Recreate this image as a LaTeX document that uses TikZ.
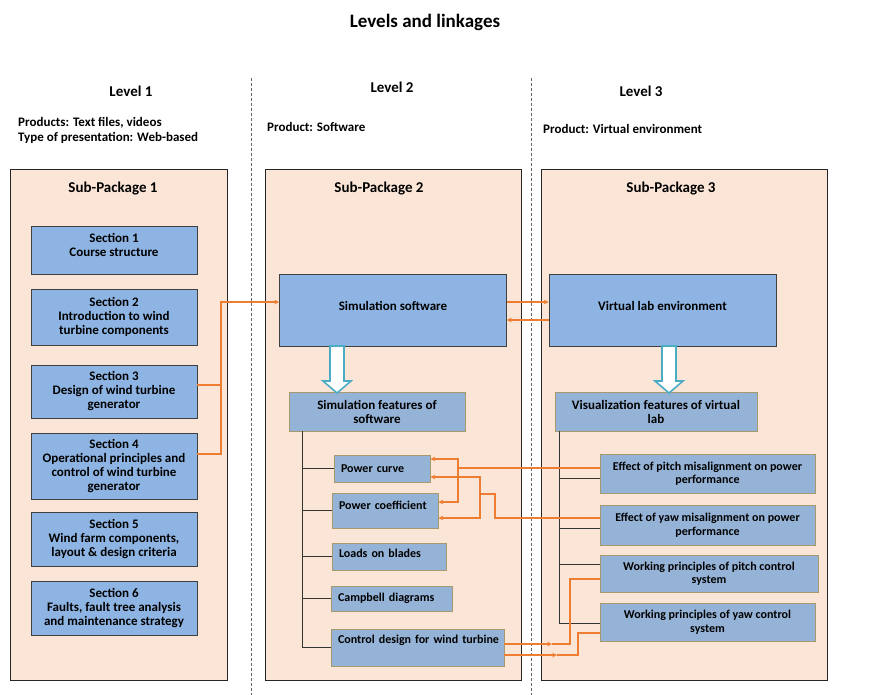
\documentclass[tikz,border=0pt]{standalone}
\usepackage{fontspec}
\setmainfont{Carlito}
\usepackage{tikz}

\definecolor{peach}{RGB}{251,229,214}
\definecolor{secblue}{RGB}{142,180,227}
\definecolor{featblue}{RGB}{149,179,215}
\definecolor{featedge}{RGB}{166,153,110}
\definecolor{linkorange}{RGB}{237,125,49}
\definecolor{arrowcyan}{RGB}{75,172,198}

\tikzset{
    pkg/.style={draw=black!85, fill=peach, line width=1pt},
    secbox/.style={draw=black!75, fill=secblue, line width=0.8pt, align=center, minimum width=166pt, inner sep=2pt},
    mainbox/.style={draw=black!75, fill=secblue, line width=0.8pt, minimum width=227pt, minimum height=72pt},
    featbox/.style={draw=featedge, fill=featblue, line width=0.9pt, align=center, inner sep=2pt},
    featleft/.style={featbox, align=left, inner xsep=7pt},
    leaf/.style={font=\bfseries\fontsize{12}{13.5}\selectfont},
    link/.style={draw=linkorange, line width=1.1pt},
    tree/.style={draw=black!80, line width=0.7pt},
    hollow/.style={draw=arrowcyan, fill=white, line width=1.6pt},
    levelsep/.style={draw=black!60, line width=0.6pt, dash pattern=on 3pt off 2pt},
    heading/.style={font=\bfseries\fontsize{15}{17}\selectfont}
}

\begin{document}
\begin{tikzpicture}[x=1pt, y=-1pt, >=stealth, font=\bfseries\fontsize{13}{14}\selectfont]
            \useasboundingbox (0,0) rectangle (870,695);

            \node (title) at (425,22) {\fontsize{19}{22}\selectfont Levels and linkages};

            % level headers
            \node[heading] (lev1) at (131,91) {Level 1};
            \node[heading] (lev2) at (392,87) {Level 2};
            \node[heading] (lev3) at (641,91) {Level 3};
            \node[anchor=west, align=left, inner sep=0pt, font=\bfseries\fontsize{13}{15}\selectfont] (prod1) at (18,130.5) {Products: Text files, videos\\Type of presentation: Web-based};
            \node[anchor=west, inner sep=0pt] (prod2) at (267,127) {Product: Software};
            \node[anchor=west, inner sep=0pt] (prod3) at (543,129) {Product: Virtual environment};

            \draw[levelsep] (251,78) -- (251,695);
            \draw[levelsep] (531,78) -- (531,695);

            % sub-packages
            \draw[pkg] (10,170) rectangle (227,680);
            \draw[pkg] (265,170) rectangle (521,680);
            \draw[pkg] (541,170) rectangle (827,680);
            \node[heading] (sp1) at (113,189) {Sub-Package 1};
            \node[heading] (sp2) at (379,189) {Sub-Package 2};
            \node[heading] (sp3) at (671,189) {Sub-Package 3};

            % level 1 sections
            \node[secbox, minimum height=48pt] (s1) at (114,250) {\raisebox{5pt}[\height][\depth]{\shortstack{Section 1\\[2.5pt]Course structure}}};
            \node[secbox, minimum height=56pt] (s2) at (114,317) {Section 2\\Introduction to wind\\turbine components};
            \node[secbox, minimum height=53pt] (s3) at (114,391.5) {Section 3\\Design of wind turbine\\generator};
            \node[secbox, minimum height=66pt] (s4) at (114,466) {Section 4\\Operational principles and\\control of wind turbine\\generator};
            \node[secbox, minimum height=54pt] (s5) at (114,539) {Section 5\\Wind farm components,\\layout \& design criteria};
            \node[secbox, minimum height=54pt] (s6) at (114,608) {Section 6\\Faults, fault tree analysis\\and maintenance strategy};

            % level 2 and 3 main blocks
            \node[mainbox] (simsw) at (393,310) {\raisebox{4pt}[\height][\depth]{Simulation software}};
            \node[mainbox] (vlab) at (662.5,310) {\raisebox{4pt}[\height][\depth]{Virtual lab environment}};
            \node[featbox, minimum width=176pt, minimum height=39pt] (simfeat) at (377,411.5) {Simulation features of\\software};
            \node[featbox, minimum width=202pt, minimum height=39pt] (visfeat) at (656,411.5) {Visualization features of virtual\\lab};

            \newcommand{\hollowdown}[2]{
                \draw[hollow] (#1,#2) ++(-7,0) -- ++(0,35) -- ++(-7,0) -- ++(14,12) -- ++(14,-12) -- ++(-7,0) -- ++(0,-35) -- cycle;
            }
            \hollowdown{337}{346}
            \hollowdown{669}{346}

            % simulation features
            \node[featleft, leaf, minimum width=96pt, text width=82pt, minimum height=27pt] (pcurve) at (382,468.5) {Power curve};
            \node[featleft, leaf, minimum width=106pt, text width=92pt, minimum height=35pt] (pcoef) at (385,510.5) {\raisebox{5pt}[\height][\depth]{Power coefficient}};
            \node[featleft, leaf, minimum width=114pt, text width=100pt, minimum height=27pt] (loads) at (389,556.5) {\raisebox{3pt}[\height][\depth]{Loads on blades}};
            \node[featleft, leaf, minimum width=121pt, text width=107pt, minimum height=25pt] (campb) at (391.5,598.5) {Campbell diagrams};
            \node[featleft, leaf, minimum width=173pt, text width=159pt, minimum height=37pt] (ctrl) at (417.5,647.5) {\raisebox{7pt}[\height][\depth]{Control design for wind turbine}};

            % visualization features
            \node[featbox, leaf, minimum width=215pt, minimum height=39pt] (epitch) at (707.5,473.5) {Effect of pitch misalignment on power\\performance};
            \node[featbox, leaf, minimum width=215pt, minimum height=40pt] (eyaw) at (707.5,525) {Effect of yaw misalignment on power\\performance};
            \node[featbox, leaf, minimum width=218pt, minimum height=37pt] (wpitch) at (709,573.5) {Working principles of pitch control\\system};
            \node[featbox, leaf, minimum width=215pt, minimum height=38pt] (wyaw) at (707.5,622) {Working principles of yaw control\\system};

            % trees
            \coordinate (t2) at ([xshift=14pt]simfeat.south west);
            \foreach \f in {pcurve,pcoef,loads,campb,ctrl}
                \draw[tree] (t2) |- (\f.west);
            \coordinate (t3) at ([xshift=5pt]visfeat.south west);
            \foreach \f/\s in {epitch/-4.5,eyaw/-3,wpitch/9.5,wyaw/-1}
                \draw[tree] (t3) |- ([yshift=\s pt]\f.west);

            % linkages
            \coordinate (jsec) at (221,385);
            \draw[link] ([yshift=12pt]s4.east) -| (jsec);
            \draw[link,->] ([yshift=6.5pt]s3.east) -- (jsec) |- ([yshift=8pt]simsw.west);
            \draw[link,->] ([yshift=8pt]simsw.east) -- ([yshift=8pt]vlab.west);
            \draw[link,->] ([yshift=-10pt]vlab.west) -- ([yshift=-10pt]simsw.east);

            \coordinate (jp) at (458,468);
            \draw[link,->] ([yshift=5.5pt]epitch.west) -- (jp) |- ([yshift=9.5pt]pcurve.east);
            \draw[link,->] (jp) |- ([yshift=8.5pt]pcoef.east);
            \coordinate (jy) at (480,494);
            \draw[link] ([yshift=7pt]eyaw.west) -| (495,494) -- (jy);
            \draw[link,->] (jy) |- ([yshift=-8.5pt]pcurve.east);
            \draw[link,->] (jy) |- ([yshift=-7.5pt]pcoef.east);

            \coordinate (c1) at (552,644);
            \coordinate (c2) at (557,655);
            \draw[link,->] ([yshift=3.5pt]ctrl.east) -- (c1);
            \draw[link] (c1) -| (570,579) -- ([yshift=-5.5pt]wpitch.west);
            \draw[link,->] ([yshift=-7.5pt]ctrl.east) -- (c2);
            \draw[link] (c2) -| (578,633) -- ([yshift=-11pt]wyaw.west);
        \end{tikzpicture}
\end{document}
